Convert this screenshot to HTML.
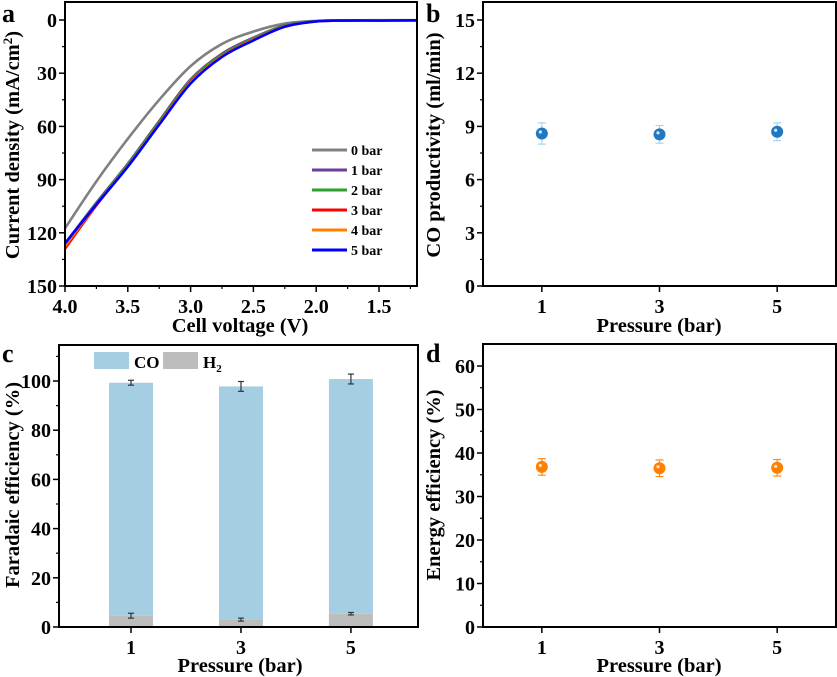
<!DOCTYPE html>
<html><head><meta charset="utf-8"><style>
html,body{margin:0;padding:0;background:#fff;}
svg{display:block;font-family:"Liberation Serif",serif;font-weight:bold;}
</style></head><body>
<svg id="fig" width="837" height="677" viewBox="0 0 837 677"></svg>
<script>
// Panel a data
const voltages = [4.0,3.75,3.5,3.25,3.0,2.75,2.5,2.25,2.0,1.75,1.5,1.2];
const bar0 = [117.5,91,67,45,26,13.5,6.5,2,0.5,0.2,0.1,0.1];
const bar1 = [126,103,81,57,33.5,19,10,3,0.7,0.3,0.2,0.2];
const bar2 = [126.5,103.5,81.5,57.5,34,19.5,10.4,3.2,0.7,0.3,0.2,0.2];
const bar3 = [129,104.5,82.5,58.5,35,20.3,11,3.6,0.8,0.3,0.2,0.2];
const bar4 = [127.5,104,82.5,58.7,35.3,20.5,11.2,3.7,0.8,0.3,0.2,0.2];
const bar5 = [126,104,82.7,59,35.8,20.8,11.5,3.8,0.8,0.3,0.3,0.2];
const seriesNames = ["0 bar","1 bar","2 bar","3 bar","4 bar","5 bar"];
const seriesColors = ["#808080","#6a3d9a","#2ca02c","#ff0000","#ff7f00","#0000ff"];
const yTicksA = [0,30,60,90,120,150];
const xTicksA = [4.0,3.5,3.0,2.5,2.0,1.5];
// Panel b data
const pressures = [1,3,5];
const coProd = [8.6,8.55,8.7];
const coProdErr = [0.6,0.5,0.5];
const yTicksB = [0,3,6,9,12,15];
// Panel c data
const feCO = [94.7,94.8,95.4];
const feH2 = [4.6,3.0,5.4];
const feTotErr = [1.0,2.0,2.0];
const feH2Err = [1.0,0.6,0.5];
const yTicksC = [0,20,40,60,80,100];
// Panel d data
const ee = [36.8,36.5,36.6];
const eeErr = [1.9,1.9,1.9];
const yTicksD = [0,10,20,30,40,50,60];

const NS="http://www.w3.org/2000/svg";
const svg=document.getElementById('fig');
function el(tag,attrs,parent,text){const e=document.createElementNS(NS,tag);for(const k in attrs)e.setAttribute(k,attrs[k]);if(text!==undefined)e.textContent=text;(parent||svg).appendChild(e);return e;}
function lin(d0,d1,r0,r1){return v=>r0+(v-d0)*(r1-r0)/(d1-d0);}

function frame(g,L,T,R,B){const r=el('rect',{x:L,y:T,width:R-L,height:B-T,fill:'none',stroke:'#000','stroke-width':2},g);}
function yAxis(g,ticks,sy,L,minors){ticks.forEach(t=>{const y=sy(t);el('line',{x1:L-6,x2:L,y1:y,y2:y,stroke:'#000','stroke-width':1.5},g);const tx=el('text',{x:L-8,y:y+7,'text-anchor':'end','font-size':20},g,String(t));});
 minors.forEach(t=>{const y=sy(t);el('line',{x1:L-3,x2:L,y1:y,y2:y,stroke:'#000','stroke-width':1.2},g);});}
function xAxis(g,ticks,sx,B,labels,minors){ticks.forEach((t,i)=>{const x=sx(t);el('line',{x1:x,x2:x,y1:B,y2:B+6,stroke:'#000','stroke-width':1.5},g);const tx=el('text',{x:x,y:B+27,'text-anchor':'middle','font-size':20},g,labels[i]);});
 (minors||[]).forEach(t=>{const x=sx(t);el('line',{x1:x,x2:x,y1:B,y2:B+3,stroke:'#000','stroke-width':1.2},g);});}
function titles(g,xt,xx,xy,yt,yx,yy,letter,lx,ly){
 const a=el('text',{x:xx,y:xy,'text-anchor':'middle','font-size':20.5},g,xt);
 const b=el('text',{x:0,y:0,'text-anchor':'middle','font-size':20.5,transform:`translate(${yx},${yy}) rotate(-90)`},g);b.innerHTML=yt;
 const c=el('text',{x:lx,y:ly,'font-size':26},g,letter);}
function smooth(pts){let d=`M${pts[0][0]},${pts[0][1]}`;for(let i=0;i<pts.length-1;i++){const p0=pts[i-1]||pts[i],p1=pts[i],p2=pts[i+1],p3=pts[i+2]||p2;
 d+=` C${p1[0]+(p2[0]-p0[0])/6},${p1[1]+(p2[1]-p0[1])/6} ${p2[0]-(p3[0]-p1[0])/6},${p2[1]-(p3[1]-p1[1])/6} ${p2[0]},${p2[1]}`;}return d;}

// ---- Panel a
{const g=el('g',{});
 const L=65,R=417,T=2,B=286;const sx=lin(4.0,1.5,65,379),sy=lin(0,150,20,286);
 const all=[bar0,bar1,bar2,bar3,bar4,bar5];
 all.forEach((s,i)=>{const p=el('path',{d:smooth(voltages.map((v,j)=>[sx(v),sy(s[j])])),fill:'none',stroke:seriesColors[i],'stroke-width':2.6},g);});
 el('rect',{x:0,y:0,width:L-1,height:300,fill:'#fff'},g);
 frame(g,L,T,R,B);
 yAxis(g,yTicksA,sy,L,[15,45,75,105,135]);
 xAxis(g,xTicksA,sx,B,xTicksA.map(v=>v.toFixed(1)),[3.75,3.25,2.75,2.25,1.75,1.25]);
 seriesNames.forEach((n,i)=>{const y=150+20*i;const lg=el('g',{},g);
  el('line',{x1:312,x2:347,y1:y,y2:y,stroke:seriesColors[i],'stroke-width':3},lg);el('text',{x:351,y:y+5,'font-size':14},lg,n);});
 titles(g,'Cell voltage (V)',240,332,'Current density (mA/cm<tspan font-size="13" dy="-7">2</tspan><tspan dy="7">)</tspan>',19,145,'a',2,22);}

// ---- Panel b
{const g=el('g',{});
 const L=483,R=836,T=2,B=286;const sx=lin(0,6,L,R),sy=lin(0,15,286,20);
 frame(g,L,T,R,B);yAxis(g,yTicksB,sy,L,[1.5,4.5,7.5,10.5,13.5]);xAxis(g,pressures,sx,B,pressures.map(String));
 pressures.forEach((p,i)=>{const x=sx(p);const e=el('g',{},g);
  el('line',{x1:x,x2:x,y1:sy(coProd[i]+coProdErr[i]),y2:sy(coProd[i]-coProdErr[i]),stroke:'#a9d4ee','stroke-width':1.2},e);
  [coProdErr[i],-coProdErr[i]].forEach(d=>el('line',{x1:x-4,x2:x+4,y1:sy(coProd[i]+d),y2:sy(coProd[i]+d),stroke:'#a9d4ee','stroke-width':1.2},e));
  el('circle',{cx:x,cy:sy(coProd[i]),r:6,fill:'#1f78c1'},e);el('circle',{cx:x-1.5,cy:sy(coProd[i])-1.5,r:1.6,fill:'#cfe6f7'},e);});
 titles(g,'Pressure (bar)',659,332,'CO productivity (ml/min)',440,145,'b',426,22);}

// ---- Panel c
{const g=el('g',{});
 const L=59,R=418,T=345,B=627;const sx=lin(-0.31,6.22,L,R),sy=lin(0,100,627,381);const bw=44;
 pressures.forEach((p,i)=>{const x=sx(p);
  const h=el('rect',{x:x-bw/2,y:sy(feH2[i]),width:bw,height:sy(0)-sy(feH2[i]),fill:'#bdbdbd'},g);
  const tot=feH2[i]+feCO[i];
  const c=el('rect',{x:x-bw/2,y:sy(tot),width:bw,height:sy(feH2[i])-sy(tot),fill:'#a6cee3'},g);
  [[tot,feTotErr[i]],[feH2[i],feH2Err[i]]].forEach(([v,e])=>{el('line',{x1:x,x2:x,y1:sy(v+e),y2:sy(v-e),stroke:'#333','stroke-width':1.2},g);
   [e,-e].forEach(d=>el('line',{x1:x-3,x2:x+3,y1:sy(v+d),y2:sy(v+d),stroke:'#333','stroke-width':1.2},g));});});
 frame(g,L,T,R,B);yAxis(g,yTicksC,sy,L,[10,30,50,70,90,110]);xAxis(g,pressures,sx,B,pressures.map(String));
 const l1=el('g',{},g);
 el('rect',{x:94,y:352,width:35,height:17,fill:'#a6cee3'},l1);el('text',{x:134,y:368,'font-size':17},l1,'CO');
 const l2=el('g',{},g);
 el('rect',{x:163,y:352,width:35,height:17,fill:'#bdbdbd'},l2);const t=el('text',{x:203,y:368,'font-size':17},l2);t.innerHTML='H<tspan font-size="11" dy="4">2</tspan>';
 titles(g,'Pressure (bar)',240,672,'Faradaic efficiency (%)',19,485,'c',2,362);}

// ---- Panel d
{const g=el('g',{});
 const L=483,R=836,T=344,B=627;const sx=lin(0,6,L,R),sy=lin(0,60,627,366);
 frame(g,L,T,R,B);yAxis(g,yTicksD,sy,L,[5,15,25,35,45,55]);xAxis(g,pressures,sx,B,pressures.map(String));
 pressures.forEach((p,i)=>{const x=sx(p);const e=el('g',{},g);
  el('line',{x1:x,x2:x,y1:sy(ee[i]+eeErr[i]),y2:sy(ee[i]-eeErr[i]),stroke:'#ff8c1a','stroke-width':1.2},e);
  [eeErr[i],-eeErr[i]].forEach(d=>el('line',{x1:x-4,x2:x+4,y1:sy(ee[i]+d),y2:sy(ee[i]+d),stroke:'#ff8c1a','stroke-width':1.2},e));
  el('circle',{cx:x,cy:sy(ee[i]),r:6,fill:'#ff8000'},e);el('circle',{cx:x-1.5,cy:sy(ee[i])-1.5,r:1.6,fill:'#ffe0bf'},e);});
 titles(g,'Pressure (bar)',659,672,'Energy efficiency (%)',440,485,'d',426,362);}
</script>
</body></html>
